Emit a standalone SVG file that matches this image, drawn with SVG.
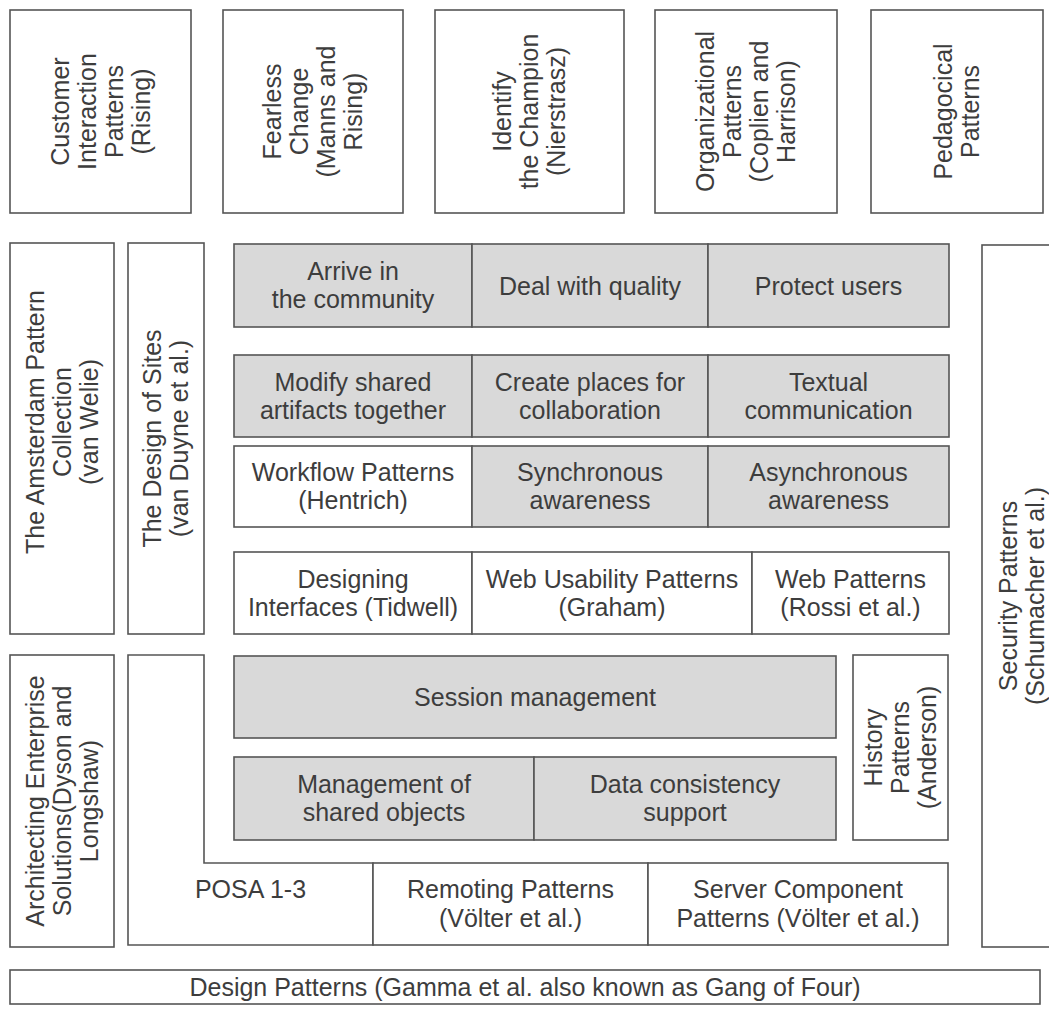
<svg xmlns="http://www.w3.org/2000/svg" width="1049" height="1009" viewBox="0 0 1049 1009">
  <style>
    .box { fill: #ffffff; stroke: #555555; stroke-width: 1.6; }
    .shade { fill: #d9d9d9; }
    text { font-family: "Liberation Sans", Arial, Helvetica, sans-serif; font-size: 25px; fill: #3d3d3d; text-anchor: middle; }
  </style>
  <rect width="1049" height="1009" fill="#ffffff"/>

  <!-- Top row: vertical-label pattern collections -->
  <g id="customer-interaction">
    <rect class="box" x="10" y="10" width="181" height="203"/>
    <text transform="translate(100.5,111.5) rotate(-90)"><tspan x="0" y="-32">Customer</tspan><tspan x="0" y="-5">Interaction</tspan><tspan x="0" y="22">Patterns</tspan><tspan x="0" y="49">(Rising)</tspan></text>
  </g>
  <g id="fearless-change">
    <rect class="box" x="223" y="10" width="180" height="203"/>
    <text transform="translate(313,111.5) rotate(-90)"><tspan x="0" y="-32">Fearless</tspan><tspan x="0" y="-5">Change</tspan><tspan x="0" y="22">(Manns and</tspan><tspan x="0" y="49">Rising)</tspan></text>
  </g>
  <g id="identify-champion">
    <rect class="box" x="435" y="10" width="189" height="203"/>
    <text transform="translate(529.5,111.5) rotate(-90)"><tspan x="0" y="-18.5">Identify</tspan><tspan x="0" y="8.5">the Champion</tspan><tspan x="0" y="35.5">(Nierstrasz)</tspan></text>
  </g>
  <g id="organizational">
    <rect class="box" x="655" y="10" width="182" height="203"/>
    <text transform="translate(746,111.5) rotate(-90)"><tspan x="0" y="-32">Organizational</tspan><tspan x="0" y="-5">Patterns</tspan><tspan x="0" y="22">(Coplien and</tspan><tspan x="0" y="49">Harrison)</tspan></text>
  </g>
  <g id="pedagogical">
    <rect class="box" x="871" y="10" width="172" height="203"/>
    <text transform="translate(957,111.5) rotate(-90)"><tspan x="0" y="-5">Pedagocical</tspan><tspan x="0" y="22">Patterns</tspan></text>
  </g>

  <!-- Left columns -->
  <g id="amsterdam">
    <rect class="box" x="10" y="243" width="104" height="391"/>
    <text transform="translate(62,422) rotate(-90)"><tspan x="0" y="-18.5">The Amsterdam Pattern</tspan><tspan x="0" y="8.5">Collection</tspan><tspan x="0" y="35.5">(van Welie)</tspan></text>
  </g>
  <g id="design-of-sites">
    <rect class="box" x="128" y="243" width="76" height="391"/>
    <text transform="translate(166,438.5) rotate(-90)"><tspan x="0" y="-5">The Design of Sites</tspan><tspan x="0" y="22">(van Duyne et al.)</tspan></text>
  </g>
  <g id="architecting">
    <rect class="box" x="10" y="655" width="104" height="292"/>
    <text transform="translate(62,801) rotate(-90)"><tspan x="0" y="-18.5">Architecting Enterprise</tspan><tspan x="0" y="8.5">Solutions(Dyson and</tspan><tspan x="0" y="35.5">Longshaw)</tspan></text>
  </g>

  <!-- Right column -->
  <g id="security">
    <rect class="box" x="982" y="245" width="80" height="702"/>
    <text transform="translate(1022,596) rotate(-90)"><tspan x="0" y="-5">Security Patterns</tspan><tspan x="0" y="22">(Schumacher et al.)</tspan></text>
  </g>

  <!-- Row A -->
  <g id="arrive">
    <rect class="box shade" x="234" y="244" width="238" height="83"/>
    <text><tspan x="353" y="280">Arrive in</tspan><tspan x="353" y="308">the community</tspan></text>
  </g>
  <g id="quality">
    <rect class="box shade" x="472" y="244" width="236" height="83"/>
    <text x="590" y="294.5">Deal with quality</text>
  </g>
  <g id="protect">
    <rect class="box shade" x="708" y="244" width="241" height="83"/>
    <text x="828.5" y="294.5">Protect users</text>
  </g>

  <!-- Row B -->
  <g id="modify">
    <rect class="box shade" x="234" y="355" width="238" height="82"/>
    <text><tspan x="353" y="390.5">Modify shared</tspan><tspan x="353" y="418.5">artifacts together</tspan></text>
  </g>
  <g id="places">
    <rect class="box shade" x="472" y="355" width="236" height="82"/>
    <text><tspan x="590" y="390.5">Create places for</tspan><tspan x="590" y="418.5">collaboration</tspan></text>
  </g>
  <g id="textual">
    <rect class="box shade" x="708" y="355" width="241" height="82"/>
    <text><tspan x="828.5" y="390.5">Textual</tspan><tspan x="828.5" y="418.5">communication</tspan></text>
  </g>

  <!-- Row C -->
  <g id="workflow">
    <rect class="box" x="234" y="446" width="238" height="81"/>
    <text><tspan x="353" y="481">Workflow Patterns</tspan><tspan x="353" y="509">(Hentrich)</tspan></text>
  </g>
  <g id="sync">
    <rect class="box shade" x="472" y="446" width="236" height="81"/>
    <text><tspan x="590" y="481">Synchronous</tspan><tspan x="590" y="509">awareness</tspan></text>
  </g>
  <g id="async">
    <rect class="box shade" x="708" y="446" width="241" height="81"/>
    <text><tspan x="828.5" y="481">Asynchronous</tspan><tspan x="828.5" y="509">awareness</tspan></text>
  </g>

  <!-- Row D -->
  <g id="designing-interfaces">
    <rect class="box" x="234" y="552" width="238" height="82"/>
    <text><tspan x="353" y="587.5">Designing</tspan><tspan x="353" y="615.5">Interfaces (Tidwell)</tspan></text>
  </g>
  <g id="web-usability">
    <rect class="box" x="472" y="552" width="280" height="82"/>
    <text><tspan x="612" y="587.5">Web Usability Patterns</tspan><tspan x="612" y="615.5">(Graham)</tspan></text>
  </g>
  <g id="web-patterns">
    <rect class="box" x="752" y="552" width="197" height="82"/>
    <text><tspan x="850.5" y="587.5">Web Patterns</tspan><tspan x="850.5" y="615.5">(Rossi et al.)</tspan></text>
  </g>

  <!-- POSA frame (L-shaped) -->
  <g id="posa">
    <path class="box" d="M128,655 H204 V863 H373 V945 H128 Z"/>
    <text x="250.5" y="898">POSA 1-3</text>
  </g>

  <g id="session">
    <rect class="box shade" x="234" y="656" width="602" height="82"/>
    <text x="535" y="706">Session management</text>
  </g>
  <g id="shared-objects">
    <rect class="box shade" x="234" y="757" width="300" height="83"/>
    <text><tspan x="384" y="793">Management of</tspan><tspan x="384" y="821">shared objects</tspan></text>
  </g>
  <g id="consistency">
    <rect class="box shade" x="534" y="757" width="302" height="83"/>
    <text><tspan x="685" y="793">Data consistency</tspan><tspan x="685" y="821">support</tspan></text>
  </g>
  <g id="history">
    <rect class="box" x="853" y="655" width="95" height="185"/>
    <text transform="translate(900.5,747.5) rotate(-90)"><tspan x="0" y="-18.5">History</tspan><tspan x="0" y="8.5">Patterns</tspan><tspan x="0" y="35.5">(Anderson)</tspan></text>
  </g>

  <!-- Bottom row -->
  <g id="remoting">
    <rect class="box" x="373" y="863" width="275" height="82"/>
    <text><tspan x="510.5" y="898">Remoting Patterns</tspan><tspan x="510.5" y="927">(Völter et al.)</tspan></text>
  </g>
  <g id="server-component">
    <rect class="box" x="648" y="863" width="300" height="82"/>
    <text><tspan x="798" y="898">Server Component</tspan><tspan x="798" y="927">Patterns (Völter et al.)</tspan></text>
  </g>
  <g id="gof">
    <rect class="box" x="10" y="970" width="1030" height="34"/>
    <text x="525" y="996">Design Patterns (Gamma et al. also known as Gang of Four)</text>
  </g>
</svg>
